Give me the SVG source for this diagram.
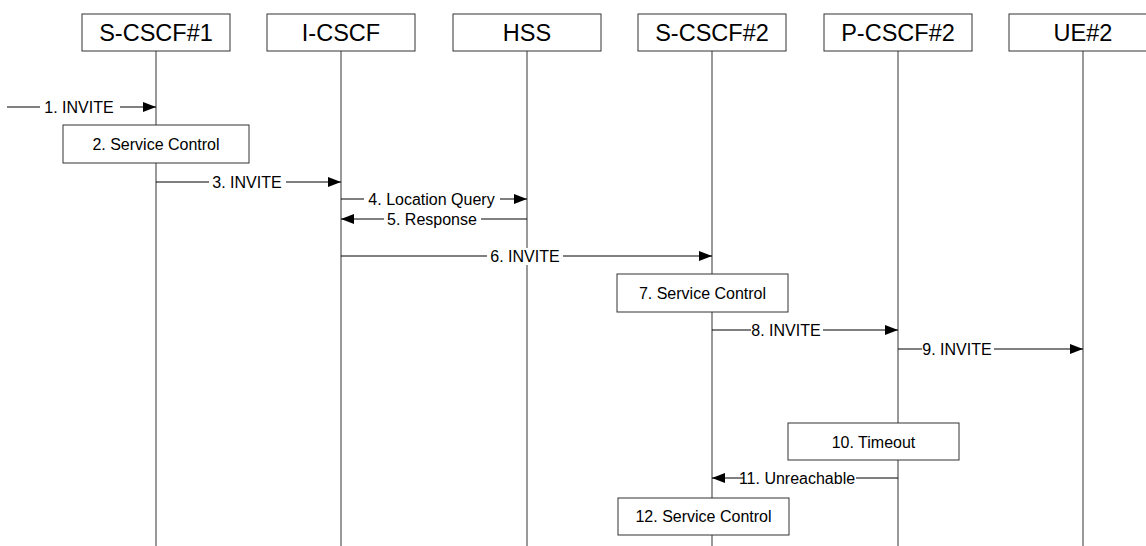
<svg xmlns="http://www.w3.org/2000/svg" width="1146" height="546" viewBox="0 0 1146 546">
<defs>
<style>
.hdr{fill:#fff;stroke:#333;stroke-width:1}
.ht{font-family:"Liberation Sans",Arial,sans-serif;font-size:23.5px;fill:#000;text-anchor:middle}
.life{stroke:#555;stroke-width:1.2}
.box{fill:#fff;stroke:#333;stroke-width:1}
.bt{font-family:"Liberation Sans",Arial,sans-serif;font-size:16px;fill:#000;text-anchor:middle}
.msg{stroke:#000;stroke-width:1;fill:none;marker-end:url(#ah)}
.lbg{fill:#fff}
.lt{font-family:"Liberation Sans",Arial,sans-serif;font-size:16px;fill:#000;text-anchor:middle}
</style>
<marker id="ah" viewBox="0 0 13 10" refX="13" refY="5" markerWidth="13" markerHeight="10" orient="auto" markerUnits="userSpaceOnUse">
<path d="M0,0 L13,5 L0,10 z" fill="#000"/>
</marker>
</defs>
<rect width="1146" height="546" fill="#fff"/>

<g id="lifelines">
<line class="life" x1="156" y1="51" x2="156" y2="546"/>
<line class="life" x1="341" y1="51" x2="341" y2="546"/>
<line class="life" x1="527" y1="51" x2="527" y2="546"/>
<line class="life" x1="712" y1="51" x2="712" y2="546"/>
<line class="life" x1="898" y1="51" x2="898" y2="546"/>
<line class="life" x1="1083" y1="51" x2="1083" y2="546"/>
</g>

<g id="node-scscf1"><rect class="hdr" x="82" y="14" width="148" height="37"/><text class="ht" x="156" y="41">S-CSCF#1</text></g>
<g id="node-icscf"><rect class="hdr" x="267" y="14" width="148" height="37"/><text class="ht" x="341" y="41">I-CSCF</text></g>
<g id="node-hss"><rect class="hdr" x="453" y="14" width="148" height="37"/><text class="ht" x="527" y="41">HSS</text></g>
<g id="node-scscf2"><rect class="hdr" x="638" y="14" width="148" height="37"/><text class="ht" x="712" y="41">S-CSCF#2</text></g>
<g id="node-pcscf2"><rect class="hdr" x="824" y="14" width="148" height="37"/><text class="ht" x="898" y="41">P-CSCF#2</text></g>
<g id="node-ue2"><rect class="hdr" x="1009" y="14" width="148" height="37"/><text class="ht" x="1083" y="41">UE#2</text></g>

<g id="connectors">
<line class="msg" x1="7" y1="107" x2="156" y2="107"/>
<line class="msg" x1="156" y1="182" x2="341" y2="182"/>
<line class="msg" x1="341" y1="199" x2="527" y2="199"/>
<line class="msg" x1="527" y1="219" x2="341" y2="219"/>
<line class="msg" x1="341" y1="256" x2="712" y2="256"/>
<line class="msg" x1="712" y1="330" x2="898" y2="330"/>
<line class="msg" x1="898" y1="349" x2="1083" y2="349"/>
<line class="msg" x1="898" y1="478" x2="712" y2="478"/>
</g>

<g id="labels">
<rect class="lbg" x="40" y="99" width="80" height="17"/><text class="lt" x="79" y="113">1. INVITE</text>
<rect class="lbg" x="209" y="174" width="77" height="17"/><text class="lt" x="247" y="188">3. INVITE</text>
<rect class="lbg" x="364" y="191" width="136" height="17"/><text class="lt" x="431.5" y="205">4. Location Query</text>
<rect class="lbg" x="384" y="211" width="97" height="17"/><text class="lt" x="432" y="225">5. Response</text>
<rect class="lbg" x="487" y="248" width="76" height="17"/><text class="lt" x="525" y="262">6. INVITE</text>
<rect class="lbg" x="751" y="322" width="72" height="17"/><text class="lt" x="786" y="336">8. INVITE</text>
<rect class="lbg" x="922" y="341" width="72" height="17"/><text class="lt" x="957" y="355">9. INVITE</text>
<rect class="lbg" x="744" y="470" width="112" height="17"/><text class="lt" x="797" y="484">11. Unreachable</text>
</g>

<g id="node-sc2"><rect class="box" x="63" y="125" width="186" height="38"/><text class="bt" x="156" y="150">2. Service Control</text></g>
<g id="node-sc7"><rect class="box" x="617" y="274" width="171" height="38"/><text class="bt" x="702.5" y="299">7. Service Control</text></g>
<g id="node-timeout10"><rect class="box" x="788" y="423" width="171" height="37"/><text class="bt" x="873.5" y="448">10. Timeout</text></g>
<g id="node-sc12"><rect class="box" x="618" y="498" width="171" height="37"/><text class="bt" x="703.5" y="522">12. Service Control</text></g>
</svg>
